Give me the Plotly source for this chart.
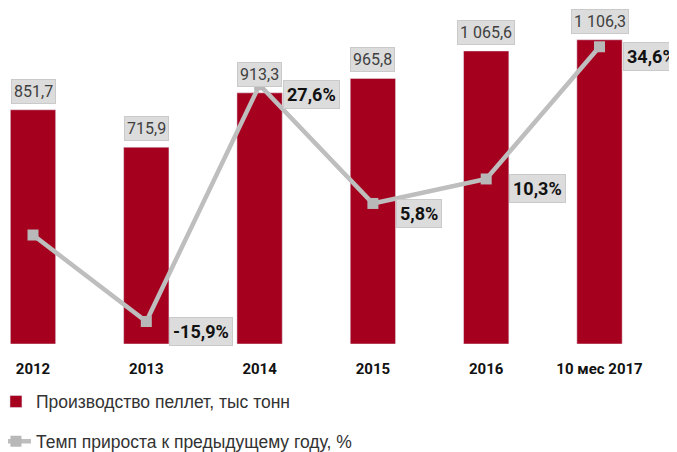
import plotly.graph_objects as go

categories = ["2012", "2013", "2014", "2015", "2016", "10 мес 2017"]
production = [851.7, 715.9, 913.3, 965.8, 1065.6, 1106.3]
growth = [0.0, -15.9, 27.6, 5.8, 10.3, 34.6]
growth_labels = ["", "-15,9%", "27,6%", "5,8%", "10,3%", "34,6%"]

BAR_COLOR = "#A6001F"
LINE_COLOR = "#BEBEBE"
BOX_COLOR = "#DCDCDC"
BOX_EDGE = "#CACACA"
NARROW = "Liberation Sans Narrow, Arial Narrow, Roboto, sans-serif"
REG = "Liberation Sans, Arial, sans-serif"


def fmt(v):
    s = f"{v:,.1f}".replace(",", " ").replace(".", ",")
    return s


fig = go.Figure()
fig.add_trace(go.Bar(
    x=categories, y=production, name="Производство пеллет, тыс тонн",
    marker=dict(color=BAR_COLOR), width=0.4, yaxis="y",
    legendgroup="a",
))
fig.add_trace(go.Scatter(
    x=categories, y=growth, name="Темп прироста к предыдущему году, %",
    mode="lines+markers", yaxis="y2",
    line=dict(color=LINE_COLOR, width=4.5),
    marker=dict(symbol="square", size=11, color="#B8B8B8"),
    legendgroup="b",
))

annotations = []
for i, v in enumerate(production):
    annotations.append(dict(
        x=i, y=v, xref="x", yref="y", text=fmt(v), showarrow=False,
        xanchor="center", yanchor="bottom", yshift=6,
        bgcolor=BOX_COLOR, bordercolor=BOX_EDGE, borderwidth=1, borderpad=2,
        font=dict(family=NARROW, size=16, color="#404040"),
    ))
for i, (v, t) in enumerate(zip(growth, growth_labels)):
    if not t:
        continue
    annotations.append(dict(
        x=i, y=v, xref="x", yref="y2", text="<b>" + t + "</b>", showarrow=False,
        xanchor="left", yanchor="middle", xshift=23, yshift=-10,
        bgcolor=BOX_COLOR, bordercolor=BOX_EDGE, borderwidth=1, borderpad=3,
        font=dict(family=NARROW, size=18, color="#111111"),
    ))

fig.update_layout(
    width=669, height=452,
    margin=dict(l=0, r=0, t=6, b=116, autoexpand=False),
    paper_bgcolor="white", plot_bgcolor="white",
    showlegend=True,
    legend=dict(
        x=-0.018, y=-0.12, xanchor="left", yanchor="top",
        orientation="v", traceorder="grouped", tracegroupgap=14,
        font=dict(family=REG, size=17.5, color="#333333"),
        itemwidth=30,
    ),
    xaxis=dict(
        type="category", range=[-0.2207, 5.684],
        showgrid=False, zeroline=False, showline=False, ticks="",
        tickfont=dict(family=NARROW, size=15, color="#111111", weight="bold"),
        ticklabelstandoff=14,
    ),
    yaxis=dict(range=[0, 1200], visible=False),
    yaxis2=dict(range=[-20.03, 40.62], overlaying="y", visible=False),
    annotations=annotations,
    bargap=0.6,
)

fig.write_html("out.html")
